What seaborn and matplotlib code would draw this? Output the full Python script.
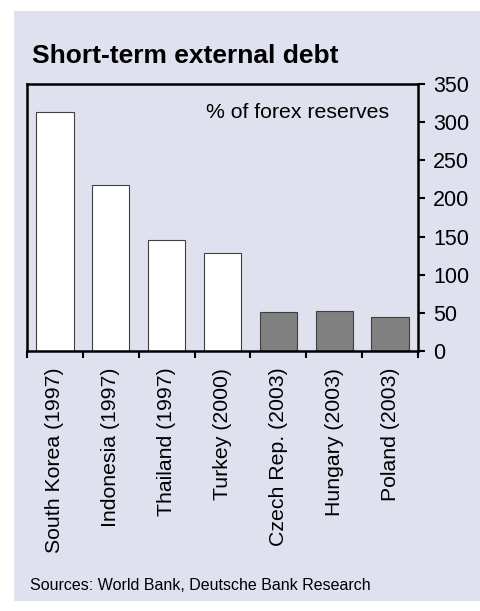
import matplotlib
matplotlib.use("Agg")
import matplotlib.pyplot as plt
from matplotlib.patches import Rectangle
import seaborn as sns

categories = ["South Korea (1997)", "Indonesia (1997)", "Thailand (1997)", "Turkey (2000)",
              "Czech Rep. (2003)", "Hungary (2003)", "Poland (2003)"]
values = [313, 217, 145, 128, 51, 52, 45]
bar_colors = ["#ffffff", "#ffffff", "#ffffff", "#ffffff", "#808080", "#808080", "#808080"]
yticks = [0, 50, 100, 150, 200, 250, 300, 350]

sns.set_style("white")
plt.rcParams['font.family'] = ['Liberation Sans', 'DejaVu Sans']
plt.rcParams['text.color'] = 'black'
plt.rcParams['xtick.color'] = 'black'
plt.rcParams['ytick.color'] = 'black'
plt.rcParams['xtick.labelcolor'] = 'black'
plt.rcParams['ytick.labelcolor'] = 'black'

bg = "#dfe1ef"
fig = plt.figure(figsize=(4.8, 6.11), dpi=100)
fig.patch.set_facecolor("white")
fig.patches.append(Rectangle((14/480, 1-601/611), (480-14)/480, (601-11)/611,
                             transform=fig.transFigure, facecolor=bg, edgecolor="none", zorder=-10))

ax = fig.add_axes([27/480, 1-351/611, (418-27)/480, (351-84)/611])
ax.set_facecolor(bg)

sns.barplot(x=categories, y=values, hue=categories, palette=bar_colors, legend=False,
            width=0.67, edgecolor="#404040", linewidth=0.8, ax=ax, saturation=1)

ax.set_xlim(-0.5, len(categories) - 0.5)
ax.set_ylim(0, 350)
ax.yaxis.tick_right()
ax.set_yticks(yticks)
ax.set_yticklabels([str(t) for t in yticks], fontsize=15.5, color="black")
ax.tick_params(axis="y", which="major", direction="out", length=5, width=1.5, color="black", pad=6, right=True, left=False)

ax.set_xticks([i - 0.5 for i in range(len(categories) + 1)])
ax.set_xticklabels([""] * (len(categories) + 1))
ax.set_xticks(range(len(categories)), minor=True)
ax.set_xticklabels(categories, minor=True, rotation=90, fontsize=15.3, va="top", ha="center", color="black")
ax.tick_params(axis="x", which="major", direction="out", length=5, width=1.5, color="black", bottom=True)
ax.tick_params(axis="x", which="minor", length=0, pad=12)
ax.set_xlabel("")
ax.set_ylabel("")

for s in ax.spines.values():
    s.set_visible(True)
    s.set_color("black")
    s.set_linewidth(1.8)

ax.text(389/480, 1-112/611, "% of forex reserves", transform=fig.transFigure,
        ha="right", va="center", fontsize=15.3, color="black")
fig.text(32/480, 1-56/611, "Short-term external debt", ha="left", va="center",
         fontsize=19, fontweight="bold", color="black")
fig.text(30/480, 1-585/611, "Sources: World Bank, Deutsche Bank Research", ha="left", va="center",
         fontsize=11.5, color="black")

fig.savefig("out.png", dpi=100, facecolor=fig.get_facecolor())
